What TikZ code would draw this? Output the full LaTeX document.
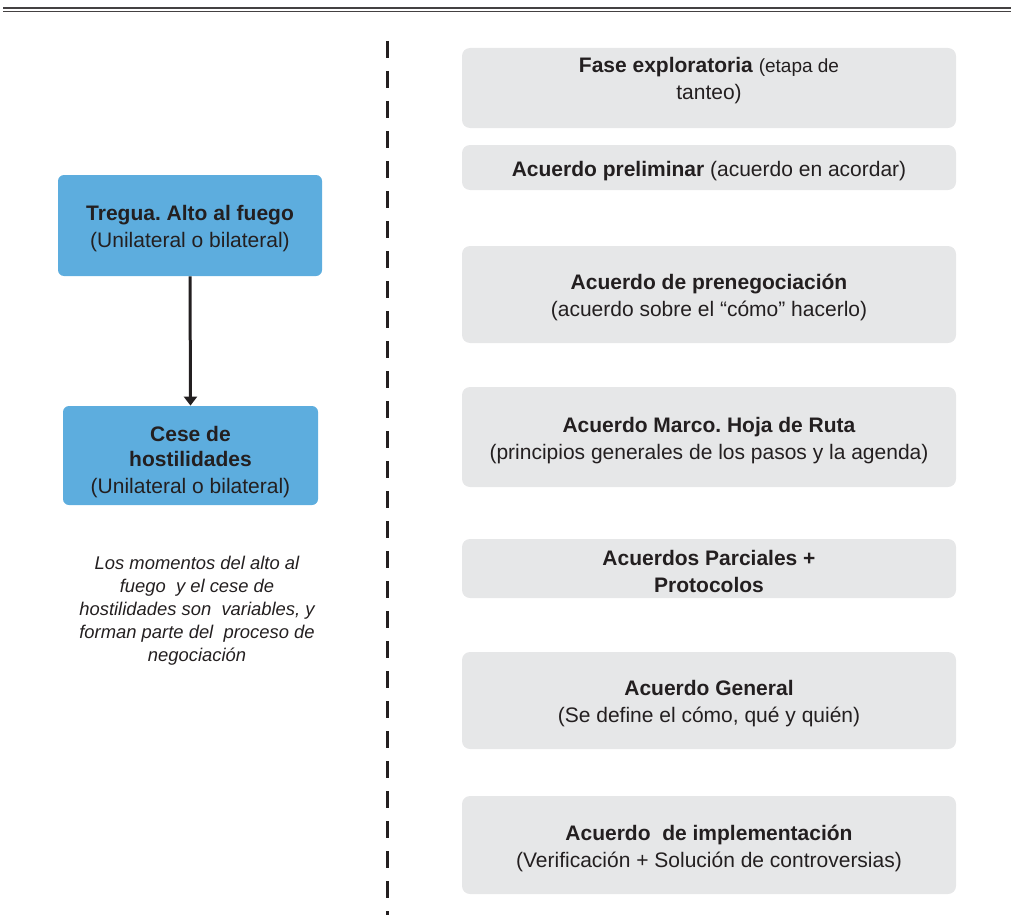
\documentclass[tikz,border=0pt]{standalone}
\usepackage{fontspec}
\setmainfont{Liberation Sans}
\usetikzlibrary{arrows.meta}
\definecolor{fondogris}{HTML}{E6E7E8}
\definecolor{azulcaja}{HTML}{5DADDE}
\definecolor{tinta}{HTML}{231F20}
\newcommand{\bajar}[1]{\rule{0pt}{#1}}
\frenchspacing
\begin{document}
\begin{tikzpicture}
[x=1pt,y=-1pt,thick,%
  every node/.style={align=center,text=tinta,font=\fontsize{21}{27}\selectfont},
  fase/.style={fill=fondogris,rounded corners=8pt,minimum width=494pt,inner sep=0pt},
  tregua/.style={fill=azulcaja,rounded corners=6pt,inner sep=0pt}]
\useasboundingbox (0,0) rectangle (1011,915);
% doble linea superior
\draw[line width=1.6pt,tinta!85] (3,8) -- (1011,8);
\draw[line width=1.6pt,tinta!85] (3,11.5) -- (1011,11.5);
% separador
\draw[line width=3pt,tinta,dash pattern=on 17pt off 13pt] (387,41) -- (387,915);
% fases de la negociacion
\node[fase,minimum height=80pt] (explora) at (709,88)
  {\bajar{22pt}\textbf{Fase exploratoria} {\fontsize{19}{27}\selectfont(etapa de}\\tanteo)\\ \mbox{}};
\node[fase,minimum height=45pt] (prelim) at (709,167.5)
  {\bajar{22pt}\textbf{Acuerdo preliminar} (acuerdo en acordar)};
\node[fase,minimum height=97pt] (preneg) at (709,294.5)
  {\bajar{22pt}\textbf{Acuerdo de prenegociación}\\(acuerdo sobre el “cómo” hacerlo)};
\node[fase,minimum height=100pt] (marco) at (709,437)
  {\bajar{22pt}\textbf{Acuerdo Marco. Hoja de Ruta}\\(principios generales de los pasos y la agenda)};
\node[fase,minimum height=59pt] (parcial) at (709,568.5)
  {\bajar{22pt}\textbf{Acuerdos Parciales +}\\\textbf{Protocolos}};
\node[fase,minimum height=97pt] (general) at (709,700.5)
  {\bajar{22pt}\textbf{Acuerdo General}\\(Se define el cómo, qué y quién)};
\node[fase,minimum height=98pt] (implementa) at (709,845)
  {\bajar{22pt}\textbf{Acuerdo\ \ de implementación}\\(Verificación + Solución de controversias)};
% tregua y cese
\node[tregua,minimum width=264pt,minimum height=101pt] (tregua) at (190,225.5)
  {\bajar{22pt}\textbf{Tregua. Alto al fuego}\\(Unilateral o bilateral)};
\node[tregua,minimum width=255pt,minimum height=99pt] (cese) at (190.5,455.5)
  {\bajar{29pt}\textbf{Cese de}\\[-2pt]\textbf{hostilidades}\\(Unilateral o bilateral)};
\draw[line width=3pt,tinta,-{Triangle[width=13pt,length=9pt]}] (tregua.south) -- (cese.north);
\node[font=\itshape\fontsize{18.4}{23}\selectfont] (nota) at (197,611)
  {Los momentos del alto al\\fuego\ \ y el cese de\\hostilidades son\ \ variables, y\\forman parte del\ \ proceso de\\negociación};
\end{tikzpicture}
\end{document}
